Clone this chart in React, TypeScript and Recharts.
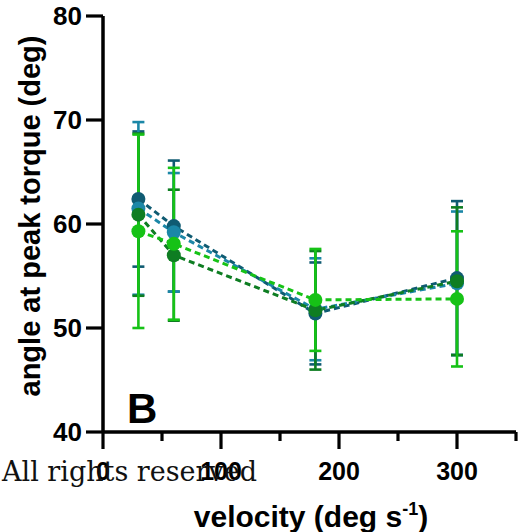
import React from 'react';
import { ComposedChart, Line, XAxis, YAxis, ErrorBar } from 'recharts';

const velocity = [30, 60, 180, 300];
const seriesA = [62.4, 59.8, 51.4, 54.8];
const errA = [6.5, 6.3, 4.9, 7.4];
const seriesB = [61.5, 59.2, 51.8, 54.3];
const errB = [8.3, 5.7, 4.9, 6.9];
const seriesC = [60.9, 57.0, 51.7, 54.5];
const errC = [7.8, 6.3, 5.7, 7.1];
const seriesD = [59.3, 58.1, 52.7, 52.8];
const errD = [9.3, 7.3, 4.9, 6.5];

const xTicks = [0, 50, 100, 150, 200, 250, 300, 350];
const xLabelTicks = [0, 100, 200, 300];
const yTicks = [40, 50, 60, 70, 80];

const colors = ['#0f5b72', '#1b87a7', '#0e7d22', '#16c216'];

const data = velocity.map((v, i) => ({
  v,
  a: seriesA[i], ea: errA[i],
  b: seriesB[i], eb: errB[i],
  c: seriesC[i], ec: errC[i],
  d: seriesD[i], ed: errD[i],
}));

const FONT = '"Liberation Sans", Arial, Helvetica, sans-serif';

const XTick = (props: any) => {
  const { x, y, payload } = props;
  const major = xLabelTicks.includes(payload.value);
  return (
    <g>
      <line x1={x} x2={x} y1={y} y2={y + (major ? 17 : 9)} stroke="#000" strokeWidth={3.2} />
      {major && (
        <text x={x} y={y + 48} textAnchor="middle" fontFamily={FONT} fontWeight="bold" fontSize={25} fill="#000">
          {payload.value}
        </text>
      )}
    </g>
  );
};

const YLabel = () => (
  <text
    x={0}
    y={0}
    transform="translate(40,216) rotate(-90)"
    textAnchor="middle"
    fontFamily={FONT}
    fontWeight="bold"
    fontSize={29}
    fill="#000"
  >
    angle at peak torque (deg)
  </text>
);

const XLabel = () => (
  <text x={311} y={527} textAnchor="middle" fontFamily={FONT} fontWeight="bold" fontSize={30} fill="#000">
    velocity (deg s<tspan dy={-12} fontSize={18}>-1</tspan><tspan dy={12}>)</tspan>
  </text>
);

const keys = [
  ['a', 'ea'],
  ['b', 'eb'],
  ['c', 'ec'],
  ['d', 'ed'],
];

export default function App() {
  return (
    <div style={{ position: 'absolute', left: 0, top: 0, width: 518, height: 532, background: '#fff' }}>
      <ComposedChart width={518} height={532} data={data} margin={{ top: 16, right: 2, bottom: 0, left: 23 }}>
        <XAxis
          type="number"
          dataKey="v"
          domain={[0, 350]}
          ticks={xTicks}
          interval={0}
          tickSize={0}
          tickMargin={0}
          tickLine={false}
          axisLine={{ stroke: '#000', strokeWidth: 3.5 }}
          tick={<XTick />}
          label={{ content: <XLabel /> }}
          height={100}
        />
        <YAxis
          type="number"
          domain={[40, 80]}
          ticks={yTicks}
          interval={0}
          width={80}
          tickSize={17}
          tickMargin={4}
          tickLine={{ stroke: '#000', strokeWidth: 3.2 }}
          axisLine={{ stroke: '#000', strokeWidth: 3.5 }}
          tick={{ fill: '#000', fontFamily: FONT, fontWeight: 'bold', fontSize: 26 }}
          label={{ content: <YLabel /> }}
        />
        {keys.map(([k, e], i) => (
          <Line
            key={k}
            dataKey={k}
            type="linear"
            stroke={colors[i]}
            strokeWidth={3}
            strokeDasharray="6 4"
            dot={{ r: 7, fill: colors[i], stroke: 'none' }}
            activeDot={false}
            isAnimationActive={false}
          >
            <ErrorBar dataKey={e} direction="y" width={6} stroke={colors[i]} strokeWidth={2.6} />
          </Line>
        ))}
        <text x={127} y={423} fontFamily={FONT} fontWeight="bold" fontSize={42} fill="#000">B</text>
      </ComposedChart>
      <div
        style={{
          position: 'absolute',
          left: 2,
          top: 455,
          fontFamily: '"DejaVu Serif", serif',
          fontSize: 27,
          lineHeight: '34px',
          color: '#111',
          whiteSpace: 'nowrap',
        }}
      >
        All rights reserved
      </div>
    </div>
  );
}
